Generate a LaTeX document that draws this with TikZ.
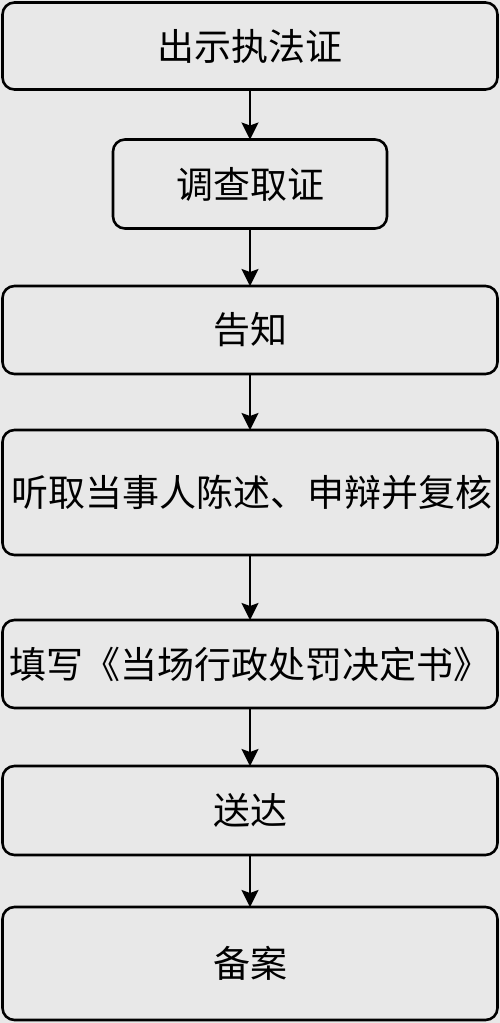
\documentclass[tikz,border=0pt]{standalone}
\usepackage{fontspec}
\newfontfamily\cjk{Noto Sans CJK SC}
\usetikzlibrary{arrows.meta}
\definecolor{bg}{HTML}{E8E8E8}
\tikzset{
  stepbox/.style={draw=black, line width=2.6pt, rounded corners=12pt, fill=bg,
    inner sep=0pt, outer sep=0pt, align=center,
    font=\cjk\fontsize{37}{42}\selectfont},
  flow/.style={line width=2.2pt, -{Stealth[length=17pt,width=17pt,inset=3pt]}}
}
\begin{document}
\begin{tikzpicture}[x=1pt,y=1pt]
\fill[bg] (0,0) rectangle (500,-1023);
\useasboundingbox (0,0) rectangle (500,-1023);
\node[stepbox, minimum width=495pt, minimum height=87pt] (b1) at (250,-46) {出示执法证};
\node[stepbox, minimum width=274pt, minimum height=89pt] (b2) at (250,-184) {调查取证};
\node[stepbox, minimum width=495pt, minimum height=88pt] (b3) at (250,-330) {告知};
\node[stepbox, minimum width=495pt, minimum height=125pt] (b4) at (250,-492.5) {\makebox[476pt][s]{听\hfill 取\hfill 当\hfill 事\hfill 人\hfill 陈\hfill 述\hfill 、\hfill 申\hfill 辩\hfill 并\hfill 复\hfill 核}};
\node[stepbox, minimum width=495pt, minimum height=88pt] (b5) at (250,-664) {填写《当场行政处罚决定书》};
\node[stepbox, minimum width=495pt, minimum height=89pt] (b6) at (250,-810.5) {送达};
\node[stepbox, minimum width=495pt, minimum height=113pt] (b7) at (250,-963.5) {备案};
\draw[flow] (b1) -- (b2);
\draw[flow] (b2) -- (b3);
\draw[flow] (b3) -- (b4);
\draw[flow] (b4) -- (b5);
\draw[flow] (b5) -- (b6);
\draw[flow] (b6) -- (b7);
\end{tikzpicture}
\end{document}
